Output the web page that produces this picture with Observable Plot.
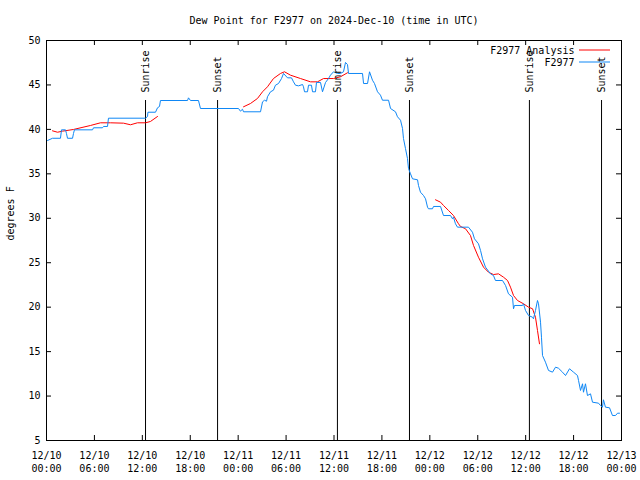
<!DOCTYPE html>
<html><head><meta charset="utf-8">
<script src="https://cdn.jsdelivr.net/npm/d3@7"></script>
<script src="https://cdn.jsdelivr.net/npm/@observablehq/plot@0.6"></script>
<style>body{margin:0;background:#fff}</style>
</head><body><div id="chart"></div>
<script>
const title = "Dew Point for F2977 on 2024-Dec-10 (time in UTC)";
const yLabel = "degrees F";
const seriesNames = ["F2977 Analysis", "F2977"];
const seriesColors = ["#ff0000", "#0f87f5"];
const startTime = "2024-12-10T00:00:00Z";
const xTickHours = [0, 6, 12, 18, 24, 30, 36, 42, 48, 54, 60, 66, 72];
const yTicks = [5, 10, 15, 20, 25, 30, 35, 40, 45, 50];
const eventNames = ["Sunrise", "Sunset", "Sunrise", "Sunset", "Sunrise", "Sunset"];
const eventHours = [12.40, 21.42, 36.43, 45.45, 60.47, 69.50];

const obsHours = [0.13,0.75,1.75,1.88,2.38,2.5,2.63,3.26,3.38,3.5,5.76,5.89,7.01,7.14,7.64,7.76,12.4,12.65,12.7,13.65,13.9,14.15,14.27,17.66,17.78,18.03,19.03,19.28,24.04,24.29,24.54,24.67,26.8,27.05,27.3,27.55,27.67,28.05,28.42,28.67,29.05,29.43,29.68,30.18,30.68,30.93,31.18,31.56,32.06,32.18,32.31,32.68,32.81,33.18,33.31,33.68,33.81,34.31,34.56,34.94,35.31,35.56,35.94,36.44,36.81,37.19,37.44,37.69,37.82,39.57,39.7,40.2,40.45,40.82,41.07,41.45,41.82,42.07,42.83,43.08,43.7,43.95,44.33,44.58,44.7,44.95,45.2,45.33,45.58,45.83,46.46,46.58,46.83,47.21,47.46,47.71,47.83,48.33,48.46,49.34,49.71,50.59,50.84,50.96,51.21,51.46,52.84,53.34,53.59,54.09,54.35,54.6,54.97,55.6,55.97,56.22,57.1,57.48,57.85,58.35,58.48,58.6,59.6,59.73,59.98,60.36,60.86,60.98,61.23,61.48,61.61,61.86,61.98,62.11,62.48,62.86,63.36,63.74,64.11,64.61,64.99,65.49,65.99,66.49,66.62,66.87,67.12,67.24,67.49,67.74,68.12,68.37,69.12,69.37,69.62,69.74,69.99,70.5,70.87,71.25,71.5,71.75];
const obsDew = [38.75,39.0,39.0,39.95,39.95,39.54,39.0,39.0,39.54,39.95,39.95,40.18,40.18,40.33,40.33,41.26,41.26,41.45,41.93,41.93,42.43,42.58,43.25,43.25,43.55,43.25,43.25,42.35,42.35,42.05,42.27,41.98,41.98,43.1,43.28,43.17,43.67,44.23,44.41,44.97,45.16,45.72,46.29,45.8,45.8,45.35,44.97,44.9,45.05,44.79,44.23,44.23,44.97,44.97,44.23,44.23,45.28,45.28,44.23,45.28,45.72,46.1,46.48,46.29,46.29,46.48,47.53,47.3,46.29,46.29,45.16,45.16,46.48,45.53,45.16,44.23,43.85,43.28,43.28,42.35,41.98,41.42,41.03,40.1,38.98,37.85,36.73,35.6,35.0,34.44,34.33,33.69,32.93,32.56,32.19,31.25,31.07,31.07,31.33,31.33,30.31,30.31,29.94,30.12,29.38,29.0,29.0,28.43,27.69,27.13,26.38,25.44,24.5,23.75,23.56,23.0,23.0,22.44,21.5,21.12,19.82,20.19,20.19,20.38,19.63,19.06,18.87,18.69,19.63,20.75,20.38,18.31,16.62,14.56,13.81,12.88,12.69,13.25,13.13,12.69,12.31,13.07,12.69,12.31,11.75,10.63,11.38,10.43,11.38,10.06,10.25,9.31,9.2,8.94,8.75,9.58,8.75,8.68,7.81,7.81,8.07,8.07];

const anaHours = [0.75,1.38,2.0,3.38,5.51,6.76,8.01,9.64,10.52,11.39,12.4,13.02,13.9,
  24.67,25.54,26.42,27.05,27.67,28.42,29.3,29.8,30.55,31.81,33.06,33.93,34.69,35.94,36.81,37.69,
  48.71,49.34,49.71,50.34,50.96,51.59,51.84,52.47,53.09,53.47,54.09,54.72,55.35,55.97,56.6,57.23,57.73,58.1,58.48,58.98,59.73,60.36,60.86,61.23,61.48,61.73];
const anaDew = [39.84,39.68,39.8,39.99,40.44,40.74,40.74,40.7,40.52,40.74,40.74,40.89,41.45,
  42.54,42.91,43.48,44.23,44.79,45.72,46.29,46.48,46.1,45.72,45.35,45.35,45.72,45.72,45.92,46.37,
  32.08,31.81,31.44,30.88,30.31,29.38,29.08,28.82,28.06,26.94,25.62,24.5,23.93,23.67,23.75,23.37,23.0,22.25,21.31,20.75,20.38,20.0,19.82,18.87,17.38,15.88];
const anaSeg = [1,1,1,1,1,1,1,1,1,1,1,1,1,
  2,2,2,2,2,2,2,2,2,2,2,2,2,2,2,2,
  3,3,3,3,3,3,3,3,3,3,3,3,3,3,3,3,3,3,3,3,3,3,3,3,3,3];

const t0 = new Date(startTime).getTime();
const toDate = h => new Date(t0 + h * 3600e3);
const obs = obsHours.map((h, i) => ({date: toDate(h), dew: obsDew[i]}));
const ana = anaHours.map((h, i) => ({date: toDate(h), dew: anaDew[i], seg: anaSeg[i]}));
const events = eventHours.map((h, i) => ({date: toDate(h), name: eventNames[i]}));
const xTicks = xTickHours.map(toDate);
const fmt = d3.utcFormat("%m/%d\n%H:%M");
const font = "'DejaVu Sans Mono', 'Liberation Mono', monospace";

function legendLines(index, scales, values, dims) {
  const g = d3.create("svg:g");
  const xr = dims.width - dims.marginRight;
  const rows = [{c: seriesColors[0], dy: 10}, {c: seriesColors[1], dy: 22}];
  for (const r of rows) {
    g.append("line")
      .attr("x1", xr - 42).attr("x2", xr - 11)
      .attr("y1", dims.marginTop + r.dy).attr("y2", dims.marginTop + r.dy)
      .attr("stroke", r.c).attr("stroke-width", 1);
  }
  return g.node();
}

const chart = Plot.plot({
  width: 640, height: 480,
  marginTop: 40, marginBottom: 40, marginLeft: 46, marginRight: 19,
  style: {fontFamily: font, fontSize: "10px", background: "white", color: "black"},
  x: {type: "utc", domain: [toDate(0), toDate(72)]},
  y: {domain: [5, 50]},
  marks: [
    Plot.ruleX(events, {x: "date", insetTop: 60, stroke: "black", strokeWidth: 1}),
    Plot.line(ana, {x: "date", y: "dew", z: "seg", stroke: seriesColors[0], strokeWidth: 1}),
    Plot.line(obs, {x: "date", y: "dew", stroke: seriesColors[1], strokeWidth: 1}),
    Plot.text(events, {x: "date", text: "name", frameAnchor: "top", rotate: -90, textAnchor: "start", lineAnchor: "middle", dy: 52, fill: "black"}),
    Plot.tickX(xTicks, {x: d => d, insetTop: 395, stroke: "black"}),
    Plot.tickX(xTicks, {x: d => d, insetBottom: 395, stroke: "black"}),
    Plot.tickY(yTicks, {y: d => d, insetRight: 570, stroke: "black"}),
    Plot.tickY(yTicks, {y: d => d, insetLeft: 570, stroke: "black"}),
    Plot.frame({stroke: "black", strokeWidth: 1}),
    Plot.axisX(xTicks, {tickSize: 0, tickPadding: 9, tickFormat: fmt, lineHeight: 1.3, label: null}),
    Plot.axisY(yTicks, {tickSize: 0, tickPadding: 6, label: null}),
    Plot.text([title], {frameAnchor: "top", lineAnchor: "middle", dy: -20, fill: "black"}),
    Plot.text([yLabel], {frameAnchor: "left", rotate: -90, dx: -36, fill: "black"}),
    Plot.text([seriesNames[0]], {frameAnchor: "top-right", textAnchor: "end", lineAnchor: "middle", dx: -47, dy: 10, fill: "black"}),
    Plot.text([seriesNames[1]], {frameAnchor: "top-right", textAnchor: "end", lineAnchor: "middle", dx: -47, dy: 22, fill: "black"}),
    legendLines
  ]
});
document.getElementById("chart").appendChild(chart);
</script>
</body></html>
